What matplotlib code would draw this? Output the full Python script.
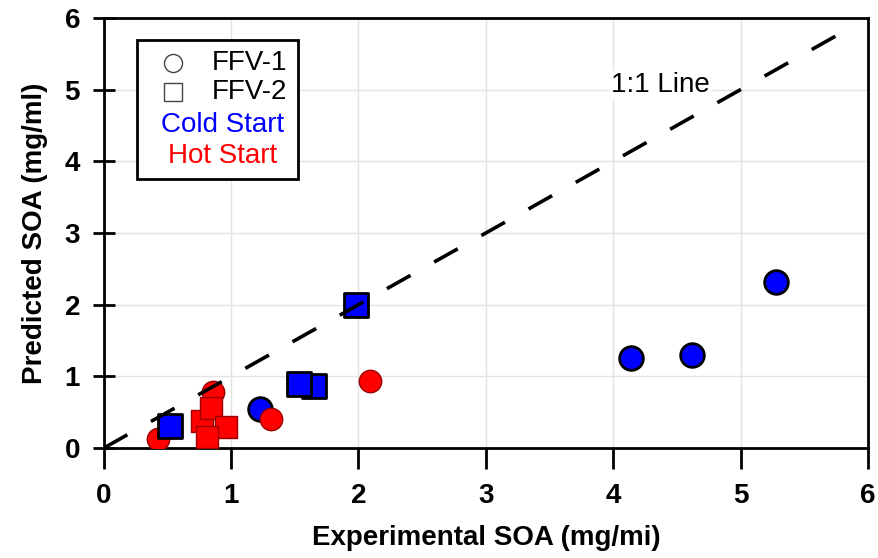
import matplotlib
matplotlib.use('Agg')
import matplotlib.pyplot as plt
from matplotlib.patches import Rectangle

plt.rcParams['font.family'] = ['Liberation Sans', 'DejaVu Sans']

# blue = cold start, red = hot start; circle = FFV-1, square = FFV-2
cold_ffv1_x = [4.14, 4.62, 5.28, 1.23]
cold_ffv1_y = [1.26, 1.30, 2.31, 0.55]
hot_ffv1_x = [0.43, 0.86, 1.31, 2.09]
hot_ffv1_y = [0.12, 0.78, 0.41, 0.94]
hot_ffv2_x = [0.77, 0.84, 0.96, 0.81]
hot_ffv2_y = [0.38, 0.56, 0.30, 0.16]
cold_ffv2_x = [1.65, 1.53, 0.52, 1.98]
cold_ffv2_y = [0.87, 0.90, 0.31, 2.00]
line_end = 5.8

fig = plt.figure(figsize=(8.79, 5.58), dpi=100)
ax = fig.add_axes([0.118, 0.197, 0.8695, 0.771])

ax.scatter(cold_ffv1_x, cold_ffv1_y, s=290, marker='o', color='#0000ff',
           edgecolor='black', linewidth=2, zorder=3)
ax.scatter(hot_ffv1_x, hot_ffv1_y, s=260, marker='o', color='#ff0000',
           edgecolor='#990000', linewidth=1, zorder=3)
ax.scatter(hot_ffv2_x, hot_ffv2_y, s=270, marker='s', color='#ff0000',
           edgecolor='#990000', linewidth=1, zorder=3)
ax.scatter(cold_ffv2_x, cold_ffv2_y, s=290, marker='s', color='#0000ff',
           edgecolor='black', linewidth=2, zorder=3)

ax.plot([0, line_end], [0, line_end], color='black', lw=2.6,
        dashes=(7.5, 7.5), zorder=4)
ax.text(4.37, 5.06, '1:1 Line', fontsize=20, ha='center', va='center',
        bbox=dict(facecolor='white', edgecolor='none', pad=1), zorder=2)

ax.set_xlim(0, 6)
ax.set_ylim(0, 6)
ax.set_xticks(range(7))
ax.set_yticks(range(7))
ax.grid(True, color='#e3e3e3', lw=1, zorder=0)
ax.set_axisbelow(True)

for sp in ax.spines.values():
    sp.set_linewidth(2)
ax.tick_params(axis='x', direction='out', length=15, width=2, pad=10,
               labelsize=20)
ax.tick_params(axis='y', direction='inout', length=16, width=2, pad=9,
               labelsize=20)
for lab in ax.get_xticklabels() + ax.get_yticklabels():
    lab.set_fontweight('bold')

ax.set_xlabel('Experimental SOA (mg/mi)', fontsize=20, fontweight='bold',
              labelpad=12)
ax.set_ylabel('Predicted SOA (mg/ml)', fontsize=20, fontweight='bold',
              labelpad=12)

# hand-made legend box
ax.add_patch(Rectangle((0.0436, 0.626), 0.2104, 0.323, transform=ax.transAxes,
                       facecolor='white', edgecolor='black', lw=2, zorder=5))
ax.plot([0.0907], [0.895], marker='o', ms=13, mfc='white', mec='#444444',
        mew=1, transform=ax.transAxes, zorder=6)
ax.plot([0.0907], [0.828], marker='s', ms=13, mfc='white', mec='#444444',
        mew=1, transform=ax.transAxes, zorder=6)
ax.text(0.240, 0.895, 'FFV-1', fontsize=20, ha='right', va='center',
        transform=ax.transAxes, zorder=6)
ax.text(0.240, 0.828, 'FFV-2', fontsize=20, ha='right', va='center',
        transform=ax.transAxes, zorder=6)
ax.text(0.156, 0.751, 'Cold Start', fontsize=20, color='#0000ff',
        ha='center', va='center', transform=ax.transAxes, zorder=6)
ax.text(0.156, 0.679, 'Hot Start', fontsize=20, color='#ff0000',
        ha='center', va='center', transform=ax.transAxes, zorder=6)

fig.savefig('out.png', dpi=100)
